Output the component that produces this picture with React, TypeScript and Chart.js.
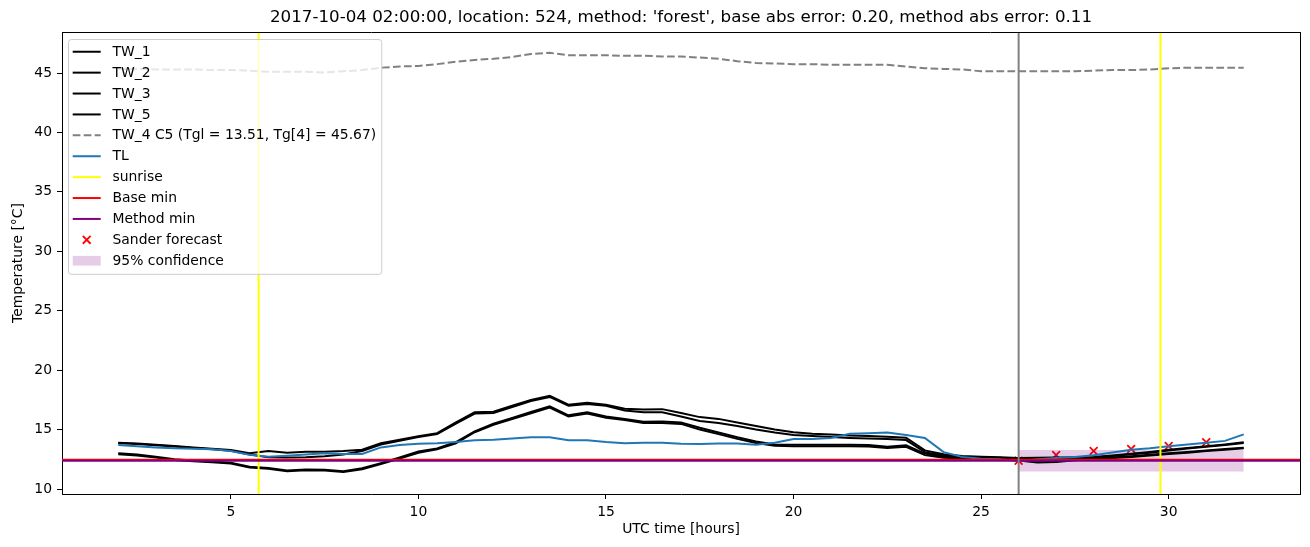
import React, { useEffect, useRef } from 'react';
import { Chart, registerables } from 'chart.js';

Chart.register(...registerables);

// ---------- data ----------
const titleText =
  "2017-10-04 02:00:00, location: 524, method: 'forest', base abs error: 0.20, method abs error: 0.11";

const hours = [
  2, 2.5, 3, 3.5, 4, 4.5, 5, 5.5, 6, 6.5, 7, 7.5, 8, 8.5, 9, 9.5, 10, 10.5, 11, 11.5,
  12, 12.5, 13, 13.5, 14, 14.5, 15, 15.5, 16, 16.5, 17, 17.5, 18, 18.5, 19, 19.5, 20,
  20.5, 21, 21.5, 22, 22.5, 23, 23.5, 24, 24.5, 25, 25.5, 26, 26.5, 27, 27.5, 28, 28.5,
  29, 29.5, 30, 30.5, 31, 31.5, 32,
];

const tw1 = [
  13.9, 13.82, 13.72, 13.62, 13.5, 13.38, 13.28, 13.0, 13.2, 13.06, 13.14, 13.14, 13.2, 13.3,
  13.85, 14.15, 14.45, 14.7, 15.6, 16.45, 16.5, 17.0, 17.5, 17.85, 17.1, 17.25, 17.1, 16.75,
  16.7, 16.72, 16.4, 16.05, 15.9, 15.6, 15.3, 15.0, 14.77, 14.65, 14.58, 14.5, 14.45, 14.4,
  14.32, 13.25, 12.92, 12.78, 12.72, 12.67, 12.6, 12.64, 12.65, 12.66, 12.7, 12.82, 12.97,
  13.12, 13.3, 13.45, 13.6, 13.75, 13.93,
];

const tw2 = [
  13.85, 13.78, 13.68, 13.58, 13.46, 13.34, 13.22, 12.9, 12.68, 12.66, 12.68, 12.75, 12.9,
  13.2, 13.75, 14.05, 14.38, 14.62, 15.5, 16.35, 16.4, 16.9, 17.4, 17.75, 17.0, 17.15, 17.0,
  16.6, 16.45, 16.46, 16.1, 15.72, 15.55, 15.3, 15.0, 14.75, 14.55, 14.45, 14.38, 14.3,
  14.25, 14.2, 14.12, 13.1, 12.82, 12.72, 12.68, 12.62, 12.52, 12.58, 12.6, 12.62, 12.66,
  12.78, 12.92, 13.06, 13.25, 13.4, 13.55, 13.7, 13.88,
];

const tw3 = [
  13.0, 12.9, 12.72, 12.5, 12.4, 12.32, 12.22, 11.88, 11.76, 11.56, 11.64, 11.62, 11.5, 11.74,
  12.18, 12.65, 13.15, 13.42, 13.95, 14.85, 15.5, 15.98, 16.48, 16.95, 16.2, 16.45, 16.1,
  15.9, 15.65, 15.67, 15.6, 15.15, 14.75, 14.35, 14.0, 13.75, 13.72, 13.72, 13.72, 13.72,
  13.7, 13.55, 13.68, 12.98, 12.72, 12.62, 12.6, 12.55, 12.46, 12.3, 12.35, 12.48, 12.56,
  12.66, 12.76, 12.88, 13.0, 13.12, 13.25, 13.36, 13.48,
];

const tw5 = [
  12.92, 12.82, 12.65, 12.45, 12.34, 12.26, 12.15, 11.8, 11.7, 11.5, 11.58, 11.56, 11.44,
  11.66, 12.1, 12.56, 13.05, 13.35, 13.85, 14.78, 15.4, 15.88, 16.38, 16.85, 16.1, 16.35,
  16.0, 15.8, 15.55, 15.55, 15.48, 15.0, 14.62, 14.22, 13.88, 13.64, 13.6, 13.6, 13.6, 13.6,
  13.58, 13.45, 13.55, 12.85, 12.64, 12.56, 12.54, 12.5, 12.4, 12.24, 12.28, 12.42, 12.5,
  12.6, 12.7, 12.82, 12.94, 13.06, 13.2, 13.3, 13.42,
];

const tw4 = [
  45.35, 45.35, 45.3, 45.3, 45.3, 45.25, 45.25, 45.2, 45.1, 45.1, 45.1, 45.05, 45.15, 45.25,
  45.45, 45.55, 45.6, 45.75, 45.95, 46.1, 46.2, 46.35, 46.6, 46.7, 46.5, 46.5, 46.5, 46.45,
  46.45, 46.4, 46.4, 46.3, 46.2, 46.0, 45.85, 45.8, 45.75, 45.75, 45.7, 45.7, 45.7, 45.7,
  45.55, 45.4, 45.35, 45.3, 45.15, 45.15, 45.15, 45.15, 45.15, 45.15, 45.2, 45.25, 45.25,
  45.3, 45.4, 45.45, 45.45, 45.45, 45.45,
];

const tl = [
  13.7, 13.6, 13.5, 13.42, 13.38, 13.34, 13.2, 12.88, 12.72, 12.8, 12.9, 13.0, 12.95, 12.95,
  13.5, 13.7, 13.8, 13.85, 13.95, 14.1, 14.15, 14.25, 14.35, 14.35, 14.1, 14.1, 13.95, 13.85,
  13.9, 13.9, 13.8, 13.78, 13.82, 13.82, 13.72, 13.9, 14.2, 14.2, 14.3, 14.65, 14.7, 14.75,
  14.55, 14.3, 13.1, 12.7, 12.55, 12.5, 12.35, 12.5, 12.6, 12.7, 12.85, 13.08, 13.3, 13.42,
  13.6, 13.75, 13.9, 14.05, 14.6,
];

const sunriseTimes = [5.74, 29.78];
const forecastTime = [26];
const baseMin = [12.47];
const methodMin = [12.38];
const sanderHours = [26, 27, 28, 29, 30, 31];
const sanderValues = [12.38, 12.86, 13.2, 13.37, 13.62, 13.93];
const confHours = [26, 32];
const confUpper = [13.28, 13.28];
const confLower = [11.48, 11.48];

const xLimits = [0.5, 33.5];
const yLimits = [9.58, 48.45];
const xTicks = [5, 10, 15, 20, 25, 30];
const yTicks = [10, 15, 20, 25, 30, 35, 40, 45];

const twLabel4 = 'TW_4 C5 (Tgl = 13.51, Tg[4] = 45.67)';

// ---------- helpers ----------
const pts = (xs: number[], ys: number[]) => xs.map((x, i) => ({ x, y: ys[i] }));
const FONT = 'DejaVu Sans';
const FS = 13.9;

const frameAndLegend = {
  id: 'frameAndLegend',
  afterDraw(chart: any) {
    const ctx = chart.ctx;
    const ca = chart.chartArea;
    ctx.save();
    // top & right spines
    ctx.strokeStyle = '#000';
    ctx.lineWidth = 1;
    ctx.beginPath();
    ctx.moveTo(ca.left, Math.round(ca.top) + 0.5);
    ctx.lineTo(ca.right, Math.round(ca.top) + 0.5);
    ctx.moveTo(Math.round(ca.right) + 0.5, ca.top);
    ctx.lineTo(Math.round(ca.right) + 0.5, ca.bottom);
    ctx.stroke();

    // legend
    const items = chart.data.datasets
      .filter((d: any) => d.label && d.legendKind)
      .sort((a: any, b: any) => a.legendIndex - b.legendIndex);
    ctx.font = `${FS}px "${FONT}"`;
    const boxX = ca.left + 6.5;
    const boxY = ca.top + 7.5;
    const rowH = 20.9;
    const firstRow = boxY + 12.2;
    const hx0 = boxX + 4.2;
    const hx1 = hx0 + 28;
    const textX = boxX + 44;
    let maxW = 0;
    items.forEach((d: any) => {
      maxW = Math.max(maxW, ctx.measureText(d.label).width);
    });
    const boxW = textX + maxW + 5.6 - boxX;
    const boxH = (items.length - 1) * rowH + 12.2 + 13.6;
    const r = 2.8;
    ctx.beginPath();
    ctx.moveTo(boxX + r, boxY);
    ctx.lineTo(boxX + boxW - r, boxY);
    ctx.arcTo(boxX + boxW, boxY, boxX + boxW, boxY + r, r);
    ctx.lineTo(boxX + boxW, boxY + boxH - r);
    ctx.arcTo(boxX + boxW, boxY + boxH, boxX + boxW - r, boxY + boxH, r);
    ctx.lineTo(boxX + r, boxY + boxH);
    ctx.arcTo(boxX, boxY + boxH, boxX, boxY + boxH - r, r);
    ctx.lineTo(boxX, boxY + r);
    ctx.arcTo(boxX, boxY, boxX + r, boxY, r);
    ctx.closePath();
    ctx.fillStyle = 'rgba(255,255,255,0.8)';
    ctx.fill();
    ctx.strokeStyle = '#cccccc';
    ctx.lineWidth = 1;
    ctx.stroke();

    items.forEach((d: any, i: number) => {
      const cy = firstRow + i * rowH;
      if (d.legendKind === 'line') {
        ctx.save();
        ctx.strokeStyle = d.borderColor;
        ctx.lineWidth = d.borderWidth;
        ctx.setLineDash(d.borderDash || []);
        ctx.beginPath();
        ctx.moveTo(hx0, cy);
        ctx.lineTo(hx1, cy);
        ctx.stroke();
        ctx.restore();
      } else if (d.legendKind === 'marker') {
        const cx = (hx0 + hx1) / 2;
        const h = 3.9;
        ctx.save();
        ctx.strokeStyle = d.pointBorderColor;
        ctx.lineWidth = d.pointBorderWidth;
        ctx.beginPath();
        ctx.moveTo(cx - h, cy - h);
        ctx.lineTo(cx + h, cy + h);
        ctx.moveTo(cx - h, cy + h);
        ctx.lineTo(cx + h, cy - h);
        ctx.stroke();
        ctx.restore();
      } else if (d.legendKind === 'patch') {
        ctx.fillStyle = d.backgroundColor;
        ctx.fillRect(hx0, cy - 4.85, 28, 9.7);
      }
      ctx.fillStyle = '#000';
      ctx.textBaseline = 'middle';
      ctx.textAlign = 'left';
      ctx.font = `${FS}px "${FONT}"`;
      ctx.fillText(d.label, textX, cy + 0.5);
    });
    ctx.restore();
  },
};

export default function App() {
  const canvasRef = useRef<HTMLCanvasElement | null>(null);

  useEffect(() => {
    const canvas = canvasRef.current;
    if (!canvas) return;
    Chart.defaults.font.family = FONT;
    const blackLine = (label: string, ys: number[], order: number, li: number) => ({
      label,
      data: pts(hours, ys),
      borderColor: '#000000',
      borderWidth: 2,
      pointRadius: 0,
      fill: false,
      order,
      legendKind: 'line',
      legendIndex: li,
    });
    const vline = (x: number, color: string, label: string | undefined, order: number, li: number) => ({
      label,
      data: [
        { x, y: yLimits[0] },
        { x, y: yLimits[1] },
      ],
      borderColor: color,
      borderWidth: 2,
      pointRadius: 0,
      fill: false,
      order,
      legendKind: label ? 'line' : undefined,
      legendIndex: li,
    });
    const hline = (y: number, color: string, label: string, order: number, li: number) => ({
      label,
      data: [
        { x: xLimits[0], y },
        { x: xLimits[1], y },
      ],
      borderColor: color,
      borderWidth: 2,
      pointRadius: 0,
      fill: false,
      order,
      legendKind: 'line',
      legendIndex: li,
    });

    const datasets: any[] = [
      // band (bottom)
      {
        label: '95% confidence',
        data: pts(confHours, confUpper),
        borderColor: 'rgba(0,0,0,0)',
        borderWidth: 1,
        backgroundColor: 'rgba(128,0,128,0.2)',
        pointRadius: 0,
        fill: '+1',
        order: 18,
        legendKind: 'patch',
        legendIndex: 10,
      },
      {
        data: pts(confHours, confLower),
        borderColor: 'rgba(0,0,0,0)',
        borderWidth: 1,
        pointRadius: 0,
        fill: false,
        order: 18,
      },
      {
        label: 'Sander forecast',
        data: pts(sanderHours, sanderValues),
        showLine: false,
        borderColor: 'red',
        pointStyle: 'crossRot',
        pointRadius: 5.5,
        pointBorderColor: 'red',
        pointBorderWidth: 1.8,
        pointBackgroundColor: 'red',
        order: 19,
        legendKind: 'marker',
        legendIndex: 9,
      },
      blackLine('TW_1', tw1, 15, 0),
      blackLine('TW_2', tw2, 14, 1),
      blackLine('TW_3', tw3, 13, 2),
      blackLine('TW_5', tw5, 12, 3),
      {
        label: twLabel4,
        data: pts(hours, tw4),
        borderColor: '#808080',
        borderWidth: 2,
        borderDash: [7.7, 3.3],
        pointRadius: 0,
        fill: false,
        order: 11,
        legendKind: 'line',
        legendIndex: 4,
      },
      {
        label: 'TL',
        data: pts(hours, tl),
        borderColor: '#1f77b4',
        borderWidth: 2,
        pointRadius: 0,
        fill: false,
        order: 10,
        legendKind: 'line',
        legendIndex: 5,
      },
      vline(sunriseTimes[0], '#ffff00', 'sunrise', 9, 6),
      vline(sunriseTimes[1], '#ffff00', undefined, 8, 99),
      hline(baseMin[0], '#ff0000', 'Base min', 7, 7),
      hline(methodMin[0], '#800080', 'Method min', 6, 8),
      vline(forecastTime[0], '#808080', undefined, 5, 99),
    ];

    const tickFont = { family: FONT, size: FS };
    const chart = new Chart(canvas, {
      type: 'line',
      data: { datasets },
      plugins: [frameAndLegend],
      options: {
        animation: false,
        responsive: false,
        maintainAspectRatio: false,
        devicePixelRatio: 1,
        events: [],
        layout: { padding: { top: 0, right: 10, bottom: 0, left: 0 } },
        elements: { line: { tension: 0 } },
        plugins: {
          legend: { display: false },
          tooltip: { enabled: false },
          title: {
            display: true,
            text: titleText,
            fullSize: false,
            color: '#000',
            font: { family: FONT, size: 16.7, weight: 'normal', lineHeight: 1.2 },
            padding: { top: 8, bottom: 4 },
          },
        },
        scales: {
          x: {
            type: 'linear',
            position: 'bottom',
            min: xLimits[0],
            max: xLimits[1],
            afterBuildTicks: (s: any) => {
              s.ticks = xTicks.map((v) => ({ value: v }));
            },
            afterFit: (s: any) => {
              s.height = 53;
            },
            ticks: {
              color: '#000',
              font: tickFont,
              padding: 5,
              maxRotation: 0,
              callback: (v: any) => String(v),
            },
            grid: {
              display: true,
              drawOnChartArea: false,
              drawTicks: true,
              tickLength: 5,
              tickColor: '#000',
              tickWidth: 1,
            },
            border: { display: true, color: '#000', width: 1 },
            title: {
              display: true,
              text: 'UTC time [hours]',
              color: '#000',
              font: { family: FONT, size: FS, lineHeight: 1.2 },
              padding: { top: 0, bottom: 9.7 },
            },
          },
          y: {
            type: 'linear',
            min: yLimits[0],
            max: yLimits[1],
            afterBuildTicks: (s: any) => {
              s.ticks = yTicks.map((v) => ({ value: v }));
            },
            afterFit: (s: any) => {
              s.width = 62;
            },
            ticks: {
              color: '#000',
              font: tickFont,
              padding: 5,
              callback: (v: any) => String(v),
            },
            grid: {
              display: true,
              drawOnChartArea: false,
              drawTicks: true,
              tickLength: 5,
              tickColor: '#000',
              tickWidth: 1,
            },
            border: { display: true, color: '#000', width: 1 },
            title: {
              display: true,
              text: 'Temperature [°C]',
              color: '#000',
              font: { family: FONT, size: FS, lineHeight: 1.2 },
              padding: { top: 9.7, bottom: 0 },
            },
          },
        },
      } as any,
    });
    return () => chart.destroy();
  }, []);

  return (
    <div style={{ position: 'fixed', left: 0, top: 0, width: 1310, height: 547, background: '#fff' }}>
      <canvas ref={canvasRef} width={1310} height={547} style={{ width: 1310, height: 547, display: 'block' }} />
    </div>
  );
}
